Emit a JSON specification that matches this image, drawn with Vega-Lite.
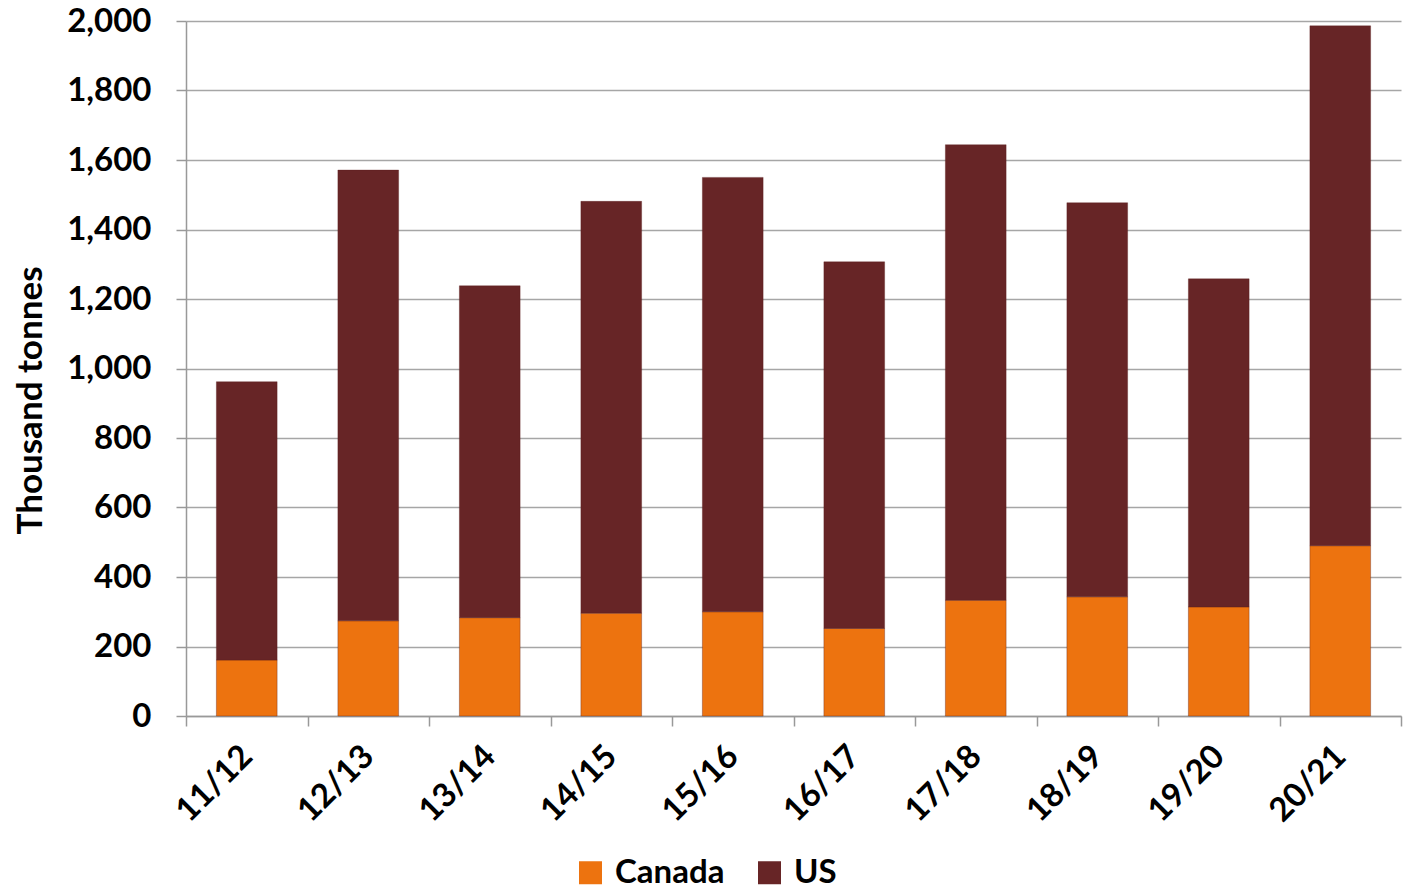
{
  "$schema": "https://vega.github.io/schema/vega-lite/v6.json",
  "width": 1215,
  "height": 695,
  "autosize": "none",
  "padding": {"left": 186, "top": 21, "right": 9, "bottom": 176},
  "background": "white",
  "config": {
    "view": {"stroke": null},
    "font": "Lato",
    "axis": {"labelFont": "Lato", "titleFont": "Lato"}
  },
  "data": {
    "values": [
      {"season": "11/12", "country": "Canada", "value": 161},
      {"season": "11/12", "country": "US", "value": 801},
      {"season": "12/13", "country": "Canada", "value": 274},
      {"season": "12/13", "country": "US", "value": 1297},
      {"season": "13/14", "country": "Canada", "value": 283},
      {"season": "13/14", "country": "US", "value": 955},
      {"season": "14/15", "country": "Canada", "value": 296},
      {"season": "14/15", "country": "US", "value": 1185},
      {"season": "15/16", "country": "Canada", "value": 300},
      {"season": "15/16", "country": "US", "value": 1250},
      {"season": "16/17", "country": "Canada", "value": 252},
      {"season": "16/17", "country": "US", "value": 1055},
      {"season": "17/18", "country": "Canada", "value": 333},
      {"season": "17/18", "country": "US", "value": 1311},
      {"season": "18/19", "country": "Canada", "value": 343},
      {"season": "18/19", "country": "US", "value": 1134},
      {"season": "19/20", "country": "Canada", "value": 314},
      {"season": "19/20", "country": "US", "value": 944},
      {"season": "20/21", "country": "Canada", "value": 490},
      {"season": "20/21", "country": "US", "value": 1496}
    ]
  },
  "mark": {"type": "bar", "width": {"band": 0.5}, "stroke": "#5a1c1c", "strokeOpacity": 0.35, "strokeWidth": 1},
  "encoding": {
    "x": {
      "field": "season",
      "type": "nominal",
      "sort": null,
      "scale": {"paddingInner": 0, "paddingOuter": 0},
      "axis": {
        "title": null,
        "labelAngle": -45,
        "labelAlign": "right",
        "labelBaseline": "middle",
        "labelFontSize": 33,
        "labelFontWeight": "bold",
        "labelColor": "black",
        "labelPadding": 25,
        "tickBand": "extent",
        "tickSize": 10,
        "tickColor": "#999999",
        "tickWidth": 1.5,
        "domainColor": "#999999",
        "domainWidth": 1.5,
        "grid": false
      }
    },
    "y": {
      "field": "value",
      "type": "quantitative",
      "stack": "zero",
      "scale": {"domain": [0, 2000], "nice": false},
      "axis": {
        "title": "Thousand tonnes",
        "titleFontSize": 35,
        "titleFontWeight": "bold",
        "titleColor": "black",
        "titleAngle": -90,
        "titleAlign": "center",
        "titleBaseline": "middle",
        "titleX": -156,
        "titleY": 379,
        "values": [0, 200, 400, 600, 800, 1000, 1200, 1400, 1600, 1800, 2000],
        "format": ",d",
        "labelFontSize": 33,
        "labelFontWeight": "bold",
        "labelColor": "black",
        "labelPadding": 25,
        "tickSize": 10,
        "tickColor": "#999999",
        "tickWidth": 1.5,
        "domainColor": "#999999",
        "domainWidth": 1.5,
        "grid": true,
        "gridColor": "#a6a6a6",
        "gridWidth": 1.5
      }
    },
    "color": {
      "field": "country",
      "type": "nominal",
      "scale": {"domain": ["Canada", "US"], "range": ["#ED730F", "#672526"]},
      "legend": {
        "title": null,
        "orient": "none",
        "direction": "horizontal",
        "legendX": 388,
        "legendY": 835,
        "symbolType": "square",
        "symbolSize": 529,
        "symbolStrokeWidth": 0,
        "labelFontSize": 33,
        "labelFontWeight": "bold",
        "labelColor": "black",
        "columnPadding": 28,
        "labelOffset": 8
      }
    },
    "order": {"field": "country", "sort": "ascending"}
  }
}
